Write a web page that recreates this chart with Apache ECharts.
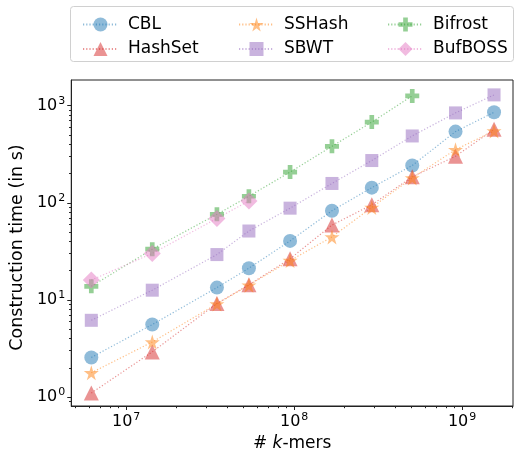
<!DOCTYPE html>
<html>
<head>
<meta charset="utf-8">
<script src="https://cdn.jsdelivr.net/npm/echarts@6/dist/echarts.min.js"></script>
<style>
  html, body { margin: 0; padding: 0; background: #fff; }
  #chart { width: 515px; height: 457px; }
</style>
</head>
<body>
<div id="chart"></div>
<script>
// # k-mers (x) for every dataset size
var kmers = [6.2e6, 1.43e7, 3.47e7, 5.38e7, 9.46e7, 1.68e8, 2.9e8, 5.05e8, 9.14e8, 1.55e9];

// construction time in seconds
var cbl = [2.56, 5.58, 13.4, 21.2, 40.5, 82.8, 143, 242, 540, 853];
var hashSet = [1.1, 2.92, 9.2, 14.3, 26.5, 58.9, 95.2, 185, 301, 570];
var ssHash = [1.78, 3.69, 9.1, 14.2, 25.4, 44.5, 89.6, 180, 352, 548];
var sbwt = [6.17, 12.6, 29.3, 51.2, 88, 158, 272, 487, 841, 1289];
var bifrost = [13.8, 33.3, 76, 116.7, 207, 381, 676, 1259];
var bufBoss = [16, 30.1, 69, 104.5];

// ticks
var xMajor = [1e7, 1e8, 1e9];
var xMinor = [5e6, 6e6, 7e6, 8e6, 9e6, 2e7, 3e7, 4e7, 5e7, 6e7, 7e7, 8e7, 9e7,
  2e8, 3e8, 4e8, 5e8, 6e8, 7e8, 8e8, 9e8, 2e9];
var yMajor = [1, 10, 100, 1000];
var yMinor = [0.9, 2, 3, 4, 5, 6, 7, 8, 9, 20, 30, 40, 50, 60, 70, 80, 90,
  200, 300, 400, 500, 600, 700, 800, 900];

var FONT = "DejaVu Sans";
var STAR = "path://M50,0 L61,35 L98,35 L68,57 L79,91 L50,70 L21,91 L32,57 L2,35 L39,35 Z";
var PLUS = "path://M1,0 L2,0 L2,1 L3,1 L3,2 L2,2 L2,3 L1,3 L1,2 L0,2 L0,1 L1,1 Z";

function pairs(ys) {
  return ys.map(function (y, i) { return [kmers[i], y]; });
}

function makeSeries(name, ys, color, symbol, size) {
  return {
    name: name,
    type: "line",
    data: pairs(ys),
    symbol: symbol,
    symbolSize: size,
    color: color,
    itemStyle: { color: color, borderWidth: 0 },
    lineStyle: { color: color, width: 1.2, type: [1.2, 2] },
    emphasis: { disabled: true },
    animation: false,
  };
}

// 10^n tick labels
function powLabel(v) {
  var e = Math.round(Math.log10(v));
  return "{b|10}{e|" + e + "}";
}
var powRich = {
  b: { fontSize: 16, fontFamily: FONT, color: "#000" },
  e: { fontSize: 11, fontFamily: FONT, color: "#000", padding: [0, 0, 9, 1] },
};

function legendCol(left, names) {
  return {
    orient: "vertical",
    left: left,
    top: 11,
    data: names,
    itemWidth: 35,
    itemHeight: 17.5,
    itemGap: 7.5,
    itemStyle: { borderWidth: 0 },
    textStyle: { fontSize: 17, fontFamily: FONT, color: "#000", padding: [0, 0, 0, 5] },
  };
}

var chart = echarts.init(document.getElementById("chart"));
var option = {
  backgroundColor: "#fff",
  animation: false,
  graphic: [
    {
      type: "rect",
      z: -1,
      shape: { x: 70.5, y: 6.5, width: 443, height: 55, r: 3 },
      style: { fill: "#fff", stroke: "#d0d0d0", lineWidth: 1 },
    },
  ],
  legend: [
    legendCol(77, ["CBL", "HashSet"]),
    legendCol(233, ["SSHash", "SBWT"]),
    legendCol(382, ["Bifrost", "BufBOSS"]),
  ],
  grid: {
    left: 71,
    right: 2,
    top: 80,
    bottom: 46,
    show: true,
    borderColor: "#222",
    borderWidth: 1,
    containLabel: false,
  },
  xAxis: [
    {
      type: "log",
      min: 4.71e6,
      max: 2.01e9,
      name: "# {i|k}-mers",
      nameLocation: "middle",
      nameGap: 29,
      nameTextStyle: {
        fontSize: 17,
        fontFamily: FONT,
        color: "#000",
        rich: { i: { fontSize: 17, fontFamily: FONT, fontStyle: "italic", color: "#000" } },
      },
      axisLine: { show: true, lineStyle: { color: "#222", width: 1 } },
      axisTick: { show: true, length: 4, customValues: xMajor, lineStyle: { color: "#222" } },
      axisLabel: { customValues: xMajor, formatter: powLabel, rich: powRich, margin: 6 },
      splitLine: { show: false },
    },
    {
      type: "log",
      min: 4.71e6,
      max: 2.01e9,
      position: "bottom",
      axisLine: { show: false },
      axisTick: { show: true, length: 2.2, customValues: xMinor, lineStyle: { color: "#222" } },
      axisLabel: { show: false },
      splitLine: { show: false },
    },
  ],
  yAxis: [
    {
      type: "log",
      min: 0.81,
      max: 1834,
      name: "Construction time (in s)",
      nameLocation: "middle",
      nameGap: 44,
      nameTextStyle: { fontSize: 17.5, fontFamily: FONT, color: "#000", padding: [0, 9, 0, 0] },
      axisLine: { show: true, lineStyle: { color: "#222", width: 1 } },
      axisTick: { show: true, length: 4, customValues: yMajor, lineStyle: { color: "#222" } },
      axisLabel: { customValues: yMajor, formatter: powLabel, rich: powRich, margin: 6 },
      splitLine: { show: false },
    },
    {
      type: "log",
      min: 0.81,
      max: 1834,
      position: "left",
      axisLine: { show: false },
      axisTick: { show: true, length: 2.2, customValues: yMinor, lineStyle: { color: "#222" } },
      axisLabel: { show: false },
      splitLine: { show: false },
    },
  ],
  series: [
    makeSeries("CBL", cbl, "rgba(31,119,180,0.5)", "circle", 14),
    makeSeries("HashSet", hashSet, "rgba(214,39,40,0.5)", "triangle", 15),
    makeSeries("SSHash", ssHash, "rgba(255,127,14,0.5)", STAR, 15),
    makeSeries("SBWT", sbwt, "rgba(148,103,189,0.5)", "rect", 13),
    makeSeries("Bifrost", bifrost, "rgba(44,160,44,0.5)", PLUS, 14),
    makeSeries("BufBOSS", bufBoss, "rgba(227,119,194,0.5)", "diamond", 17),
  ],
};
chart.setOption(option);
</script>
</body>
</html>
